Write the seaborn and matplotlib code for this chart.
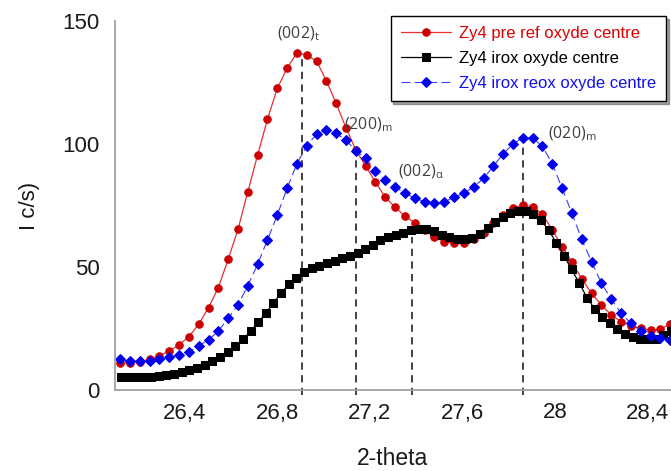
import matplotlib
matplotlib.use("Agg")
import matplotlib.pyplot as plt
import seaborn as sns
import numpy as np

# 2-theta grid of the two diamond / circle scans and of the square scan
theta_start = 26.122
theta_step = 0.0424
theta_start_irox = 26.124
theta_step_irox = 0.033

pre_ref = [
    10.9, 11.1, 11.5, 12.5, 13.8, 15.9, 18.3, 21.7, 26.7, 33.5,
    41.6, 53.1, 65.3, 80.5, 95.5, 110.0, 122.6, 130.8, 137.1, 136.2,
    133.7, 125.7, 116.5, 106.5, 97.6, 91.0, 84.5, 78.3, 74.3, 70.7,
    68.0, 65.0, 62.3, 60.3, 59.6, 59.9, 61.3, 64.0, 68.0, 71.1,
    73.8, 75.2, 74.5, 71.5, 65.0, 58.3, 52.2, 45.1, 39.3, 34.6,
    30.5, 27.8, 26.2, 25.1, 24.4, 24.7, 26.8,
]

irox_reox = [
    12.5, 11.7, 11.7, 11.9, 12.5, 13.3, 14.2, 15.3, 18.0, 20.3,
    24.0, 29.1, 34.6, 42.4, 51.1, 61.0, 71.1, 82.0, 92.0, 99.2,
    104.0, 105.7, 104.3, 101.6, 97.2, 94.2, 89.0, 85.5, 82.5, 80.0,
    78.0, 76.5, 76.1, 76.5, 78.3, 80.0, 82.6, 86.0, 91.0, 96.0,
    100.0, 102.6, 102.5, 99.0, 92.0, 82.0, 71.8, 61.2, 52.2, 43.4,
    37.0, 31.2, 27.1, 24.1, 22.0, 21.0, 20.5,
]

irox = [
    5.4, 5.2, 5.1, 5.1, 5.2, 5.5, 6.0, 6.6, 7.3, 8.1,
    9.1, 10.3, 11.8, 13.5, 15.5, 17.9, 20.6, 23.8, 27.5, 31.3,
    35.5, 39.3, 43.0, 45.7, 47.8, 49.5, 50.6, 51.6, 52.6, 53.6,
    54.6, 55.8, 57.2, 59.0, 60.8, 62.0, 63.0, 64.0, 64.9, 65.5,
    65.4, 64.6, 63.2, 62.0, 61.3, 61.3, 61.9, 63.5, 65.8, 68.3,
    70.3, 71.8, 72.7, 72.9, 71.6, 69.0, 65.0, 59.8, 54.6, 49.0,
    43.5, 37.6, 33.0, 29.8, 27.1, 24.6, 22.6, 21.4, 20.8, 20.6,
    20.9, 22.4, 24.0,
]

# reflections: label, position, top of the dashed marker line, label anchor
peak_labels = ["(002)$_\\mathregular{t}$", "(200)$_\\mathregular{m}$",
               "(002)$_\\mathregular{α}$", "(020)$_\\mathregular{m}$"]
peak_pos = [26.908, 27.142, 27.384, 27.863]
peak_top = [136.6, 98.0, 62.3, 101.6]
label_x = [26.80, 27.09, 27.32, 27.97]
label_y = [145.0, 107.7, 88.6, 104.0]

x_ticks = [26.4, 26.8, 27.2, 27.6, 28.0, 28.4]
x_tick_labels = ["26,4", "26,8", "27,2", "27,6", "28", "28,4"]
y_ticks = [0, 50, 100, 150]

theta = np.round(theta_start + theta_step * np.arange(len(pre_ref)), 4)
theta_irox = np.round(theta_start_irox + theta_step_irox * np.arange(len(irox)), 4)

sns.set_style("white")
plt.rcParams["font.family"] = ["Liberation Sans", "DejaVu Sans"]

fig = plt.figure(figsize=(6.71, 4.71), dpi=100)
ax = fig.add_axes([115 / 671, 81 / 471, 556 / 671, 369 / 471])

sns.lineplot(x=theta, y=pre_ref, ax=ax, errorbar=None,
             color="#e8302e", linewidth=0.9,
             marker="o", markersize=5.4,
             markerfacecolor="#cc0000", markeredgecolor="#cc0000",
             label="Zy4 pre ref oxyde centre")
sns.lineplot(x=theta_irox, y=irox, ax=ax, errorbar=None,
             color="black", linewidth=0.9,
             marker="s", markersize=6.2,
             markerfacecolor="black", markeredgecolor="black",
             label="Zy4 irox oxyde centre")
sns.lineplot(x=theta, y=irox_reox, ax=ax, errorbar=None,
             color="#3a3aff", linewidth=0.8, linestyle=(0, (8, 4)),
             marker="D", markersize=4.6,
             markerfacecolor="#0000ee", markeredgecolor="#0000ee",
             label="Zy4 irox reox oxyde centre")

for x, top in zip(peak_pos, peak_top):
    ax.plot([x, x], [-2, top], color="#333333", linewidth=1.3,
            linestyle=(0, (4, 3)), clip_on=False, zorder=1)

for text, x, y in zip(peak_labels, label_x, label_y):
    ax.text(x, y, text, fontsize=11.5, color="#404040", va="center",
            family=["Open Sans", "DejaVu Sans"])

ax.set_xlim(26.1, 28.5)
ax.set_ylim(0, 150)
ax.set_xticks(x_ticks)
ax.set_xticklabels(x_tick_labels)
ax.set_yticks(y_ticks)
ax.tick_params(direction="in", length=5, width=1, color="#a0a0a0",
               labelsize=16, labelcolor="#1a1a1a")
ax.tick_params(axis="y", pad=11)
ax.tick_params(axis="x", pad=9)

for side in ["top", "right"]:
    ax.spines[side].set_visible(False)
for side in ["left", "bottom"]:
    ax.spines[side].set_color("#a0a0a0")
    ax.spines[side].set_linewidth(1.3)

ax.set_xlabel("2-theta", fontsize=16.5, labelpad=17, color="#1a1a1a")
ax.set_ylabel("I c/s)", fontsize=16, labelpad=16, color="#1a1a1a")

leg = ax.legend(loc="upper right", bbox_to_anchor=(1.006, 1.036),
                fontsize=12, frameon=True, fancybox=False, shadow=True,
                edgecolor="black", handlelength=3.0, labelspacing=0.6,
                borderpad=0.6, handletextpad=0.5, framealpha=1)
leg.get_frame().set_linewidth(1.0)
for txt, col in zip(leg.get_texts(), ["#dd0000", "black", "#1010ee"]):
    txt.set_color(col)

plt.savefig("out.png", dpi=100)
plt.close()
